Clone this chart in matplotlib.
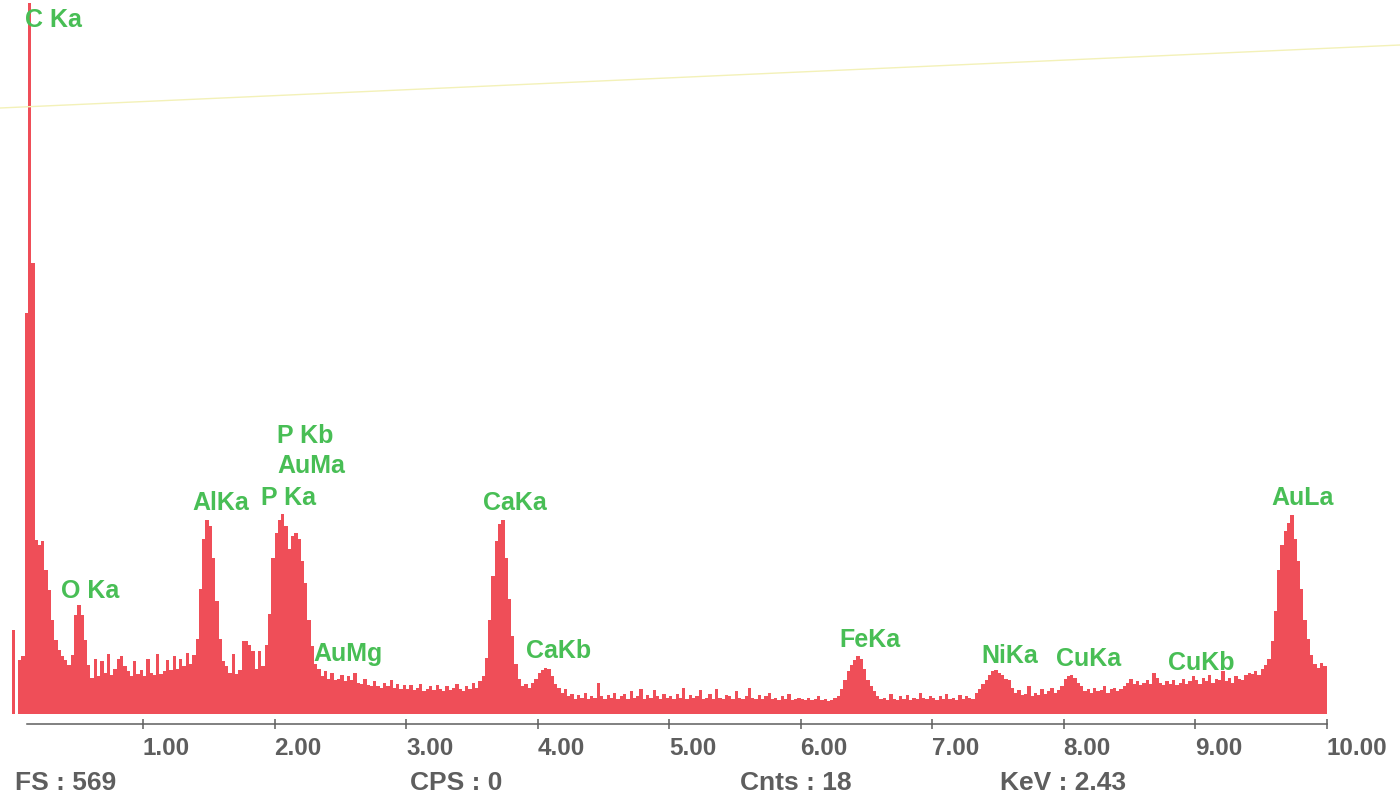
import numpy as np
import matplotlib
matplotlib.use("Agg")
import matplotlib.pyplot as plt
from matplotlib.lines import Line2D

plt.rcParams['font.family'] = ['Liberation Sans', 'DejaVu Sans']

# EDS spectrum, counts per 0.025 keV channel, one list per keV
CH_WIDTH = 0.025
kev_0 = [67, 0, 43, 46, 321, 569, 361, 139, 135, 138,
         115, 99, 75, 59, 51, 46, 43, 39, 47, 79,
         87, 79, 59, 39, 29, 44, 30, 42, 33, 48,
         31, 36, 44, 46, 38, 34, 30, 42, 32, 35]
kev_1 = [30, 44, 33, 31, 48, 32, 34, 43, 35, 46,
         36, 44, 38, 49, 40, 47, 60, 100, 140, 155,
         150, 125, 90, 60, 42, 38, 33, 48, 32, 35,
         58, 58, 55, 50, 36, 50, 38, 55, 80, 125]
kev_2 = [145, 155, 160, 150, 132, 142, 145, 140, 122, 105,
         75, 54, 40, 36, 30, 34, 28, 33, 27, 28,
         31, 26, 30, 27, 33, 25, 24, 28, 23, 22,
         26, 22, 21, 25, 22, 27, 21, 24, 20, 23]
kev_3 = [20, 23, 19, 21, 24, 18, 20, 22, 19, 23,
         20, 18, 22, 19, 21, 24, 20, 18, 22, 20,
         25, 21, 26, 30, 45, 75, 110, 138, 152, 155,
         125, 92, 62, 40, 28, 22, 24, 21, 25, 28]
kev_4 = [33, 35, 37, 36, 30, 24, 21, 17, 20, 14,
         16, 12, 15, 13, 17, 12, 14, 13, 25, 14,
         12, 15, 13, 17, 12, 14, 16, 12, 18, 13,
         14, 20, 12, 15, 13, 19, 14, 12, 16, 13]
kev_5 = [14, 12, 16, 13, 21, 12, 15, 13, 14, 19,
         12, 13, 16, 12, 20, 13, 12, 15, 14, 12,
         18, 13, 12, 14, 21, 13, 12, 15, 12, 14,
         17, 12, 13, 11, 14, 12, 16, 11, 12, 13]
kev_6 = [12, 11, 13, 11, 12, 14, 11, 12, 10, 11,
         13, 14, 20, 27, 34, 39, 43, 46, 44, 36,
         27, 22, 18, 14, 12, 13, 11, 16, 12, 11,
         14, 12, 15, 11, 13, 12, 17, 13, 12, 14]
kev_7 = [13, 11, 14, 12, 16, 12, 13, 11, 15, 12,
         14, 13, 12, 17, 20, 24, 27, 31, 34, 35,
         33, 31, 28, 27, 21, 17, 19, 15, 16, 22,
         14, 17, 15, 20, 16, 18, 21, 17, 19, 22]
kev_8 = [28, 30, 31, 29, 25, 22, 18, 20, 17, 21,
         18, 19, 22, 17, 20, 21, 18, 20, 22, 25,
         28, 24, 26, 23, 25, 27, 24, 33, 29, 25,
         23, 26, 24, 27, 23, 25, 28, 24, 26, 30]
kev_9 = [27, 24, 29, 26, 31, 25, 28, 27, 34, 26,
         29, 25, 30, 28, 27, 31, 33, 32, 34, 31,
         36, 39, 44, 58, 82, 115, 135, 146, 153, 159,
         140, 122, 100, 75, 60, 47, 40, 37, 41, 38]

# peak labels: text, energy (keV), height (counts)
peak_names = ['C Ka', 'O Ka', 'AlKa', 'P Ka', 'AuMa', 'P Kb', 'AuMg',
              'CaKa', 'CaKb', 'FeKa', 'NiKa', 'CuKa', 'CuKb', 'AuLa']
peak_kev = [0.32, 0.60, 1.59, 2.11, 2.28, 2.23, 2.56,
            3.83, 4.16, 6.53, 7.59, 8.19, 9.05, 9.82]
peak_cnt = [555, 98, 169, 173, 198, 222, 48,
            169, 50, 59, 46, 44, 41, 173]

tick_kev = [1, 2, 3, 4, 5, 6, 7, 8, 9, 10]
footer = ['FS : 569', 'CPS : 0', 'Cnts : 18', 'KeV : 2.43']
footer_x = [15, 410, 740, 1000]

RED = '#ef4e58'
GREEN = '#48be55'
GREY = '#5e5e5e'

counts = np.concatenate([kev_0, kev_1, kev_2, kev_3, kev_4,
                         kev_5, kev_6, kev_7, kev_8, kev_9])
edges = np.arange(len(counts) + 1) * CH_WIDTH

fig = plt.figure(figsize=(14, 7.96), dpi=100)
ax = fig.add_axes([11.5 / 1400, (796 - 714) / 796, 1315 / 1400, 714 / 796])
ax.set_xlim(0, 10)
ax.set_ylim(0, 571)

ax.stairs(counts, edges, fill=True, color=RED, baseline=0)

for name, e, c in zip(peak_names, peak_kev, peak_cnt):
    ax.text(e, c, name, color=GREEN, fontsize=18, fontweight='bold',
            ha='center', va='center')

for s in ['left', 'right', 'top']:
    ax.spines[s].set_visible(False)
ax.spines['bottom'].set_position(('outward', 7.2))
ax.spines['bottom'].set_bounds(0.12, 10)
ax.spines['bottom'].set_color(GREY)
ax.spines['bottom'].set_linewidth(1.1)
ax.set_yticks([])
ax.set_xticks(tick_kev)
ax.set_xticklabels([f'{t:.2f}' for t in tick_kev])
ax.tick_params(axis='x', direction='inout', length=7, width=1.1, color=GREY,
               labelcolor=GREY, labelsize=17.5, pad=6)
for lbl in ax.get_xticklabels():
    lbl.set_ha('left')
    lbl.set_fontweight('bold')

for txt, xp in zip(footer, footer_x):
    fig.text(xp / 1400, 1 - 783 / 796, txt, color=GREY, fontsize=19,
             fontweight='bold', ha='left', va='center')

# faint scanner streak across the top
fig.add_artist(Line2D([0, 1], [1 - 108 / 796, 1 - 45 / 796],
                      transform=fig.transFigure, color='#f3f1b8', lw=1))

fig.savefig('out.png', dpi=100)
